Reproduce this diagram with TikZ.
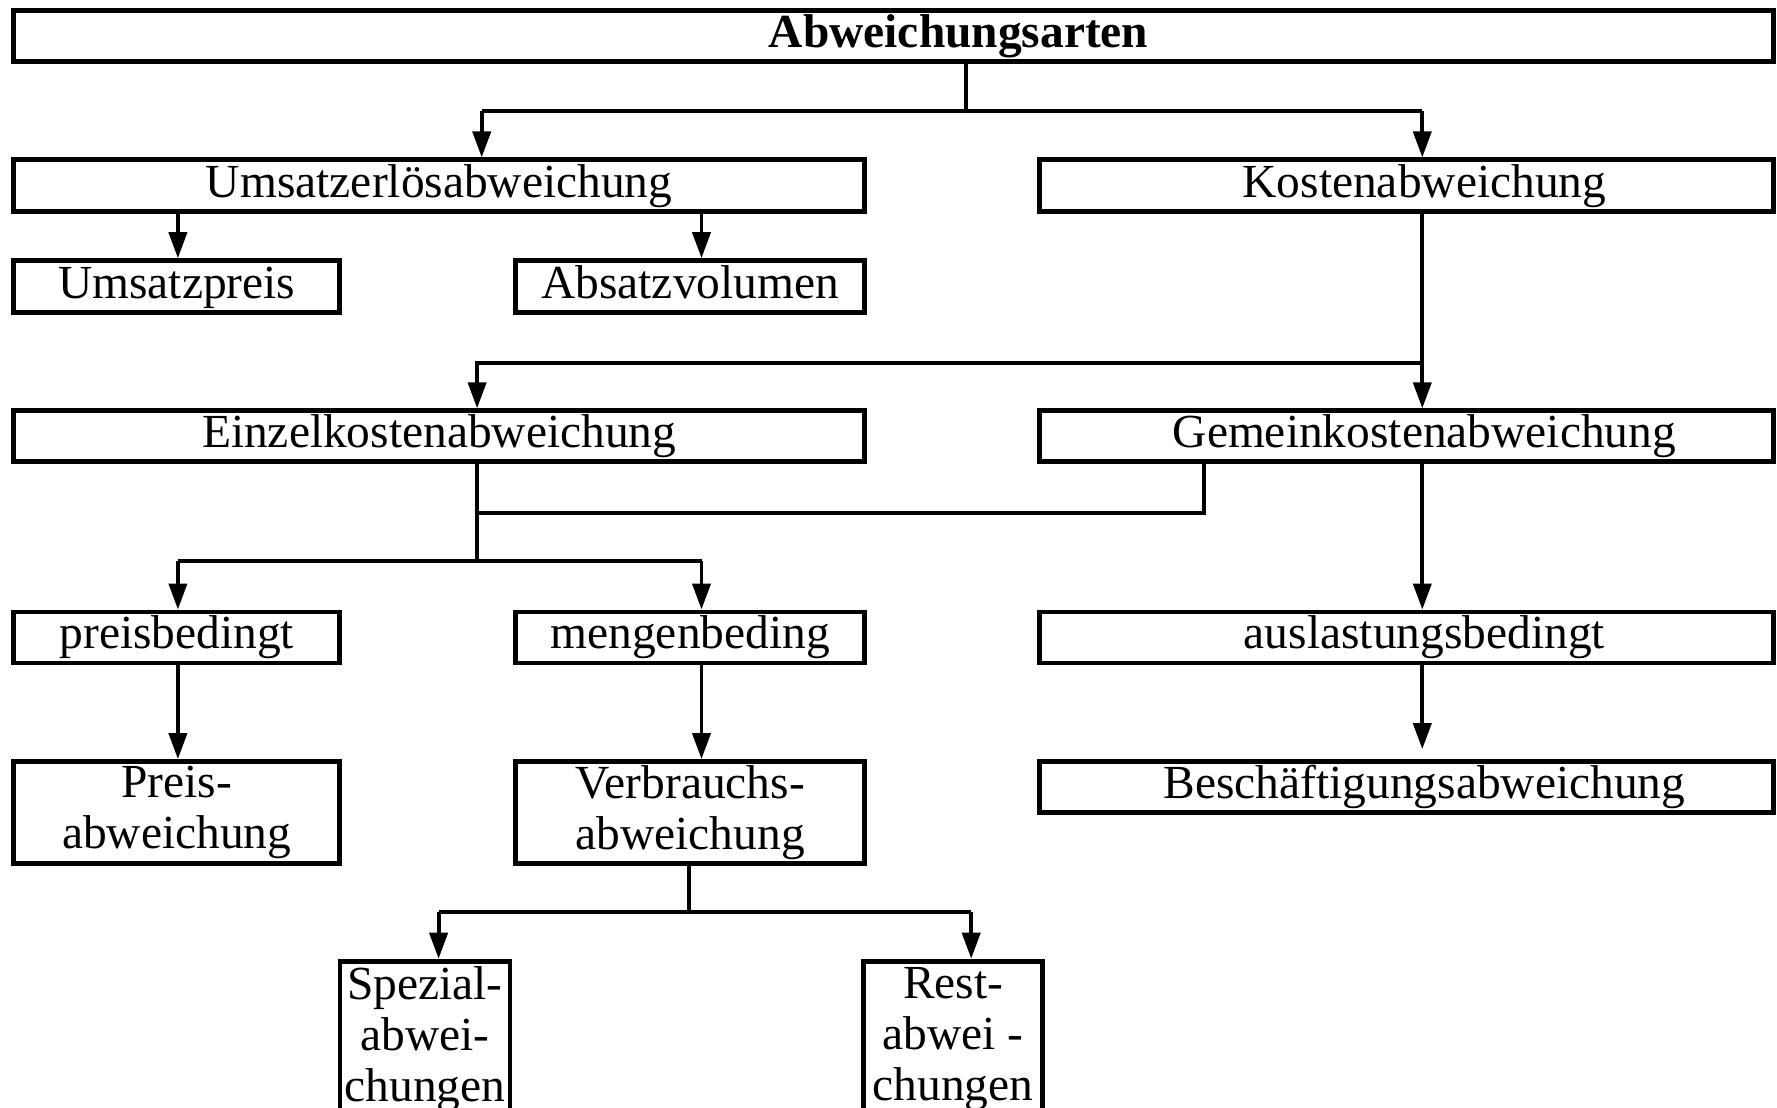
\documentclass[tikz,border=0pt]{standalone}
\usepackage{fontspec}
\setmainfont{Liberation Serif}
\usetikzlibrary{arrows.meta}

\tikzset{
  boxnode/.style={draw=black, line width=1.4pt, inner sep=1pt, align=center,
    font=\fontsize{13.5}{14.5}\selectfont},
  oneline/.style={boxnode, text height=9.5pt, text depth=3pt},
  conn/.style={line width=1.1pt},
  arr/.style={conn, -{Triangle[length=2.6mm,width=1.8mm]}}
}

\begin{document}
\begin{tikzpicture}
\clip (0,0) rectangle (17.77,11.08);

\node [oneline, minimum width=17.60cm, minimum height=0.49cm] (arten) at (8.936,10.723) {\hspace*{1.3cm}\textbf{Abweichungsarten}};
\node [oneline, minimum width=8.51cm, minimum height=0.52cm] (umsatz) at (4.392,9.221) {Umsatzerlösabweichung};
\node [oneline, minimum width=7.34cm, minimum height=0.52cm] (kosten) at (14.064,9.221) {\hspace*{0.36cm}Kostenabweichung};
\node [oneline, minimum width=3.26cm, minimum height=0.52cm] (upreis) at (1.768,8.213) {Umsatzpreis};
\node [oneline, minimum width=3.49cm, minimum height=0.52cm] (absatz) at (6.902,8.213) {Absatzvolumen};
\node [oneline, minimum width=8.51cm, minimum height=0.50cm] (einzel) at (4.392,6.717) {Einzelkostenabweichung};
\node [oneline, minimum width=7.34cm, minimum height=0.50cm] (gemein) at (14.064,6.717) {\hspace*{0.36cm}Gemeinkostenabweichung};
\node [oneline, minimum width=3.26cm, minimum height=0.51cm] (preisbed) at (1.768,4.705) {preisbedingt};
\node [oneline, minimum width=3.49cm, minimum height=0.51cm] (mengenbed) at (6.902,4.705) {mengenbeding};
\node [oneline, minimum width=7.34cm, minimum height=0.51cm] (auslast) at (14.064,4.705) {\hspace*{0.36cm}auslastungsbedingt};
\node [boxnode, minimum width=3.26cm, minimum height=1.02cm] (preisabw) at (1.768,2.954) {Preis-\\abweichung};
\node [boxnode, minimum width=3.49cm, minimum height=1.02cm] (verbrauch) at (6.902,2.954) {Verbrauchs-\\abweichung};
\node [oneline, minimum width=7.34cm, minimum height=0.51cm] (besch) at (14.064,3.209) {\hspace*{0.36cm}Beschäftigungsabweichung};
\node [boxnode, minimum width=1.70cm, minimum height=1.55cm] (spezial) at (4.25,0.693) {Spezial-\\abwei-\\chungen};
\node [boxnode, minimum width=1.79cm, minimum height=1.55cm] (rest) at (9.531,0.693) {Rest-\\abwei -\\chungen};

\coordinate (t0) at (9.656,9.969);
\coordinate (t1) at (4.817,9.969);
\coordinate (t2) at (14.223,9.969);
\draw [conn] (arten.south -| t0) -- (t0);
\draw [conn] (t1) -- (t2);
\draw [arr] (t1) -- (umsatz.north -| t1);
\draw [arr] (t2) -- (kosten.north -| t2);

\coordinate (b1) at (1.779,5.47);
\coordinate (b2) at (7.015,5.47);
\draw [arr] (umsatz.south -| b1) -- (upreis.north -| b1);
\draw [arr] (umsatz.south -| b2) -- (absatz.north -| b2);

\coordinate (k1) at (14.223,7.453);
\coordinate (k2) at (4.771,7.453);
\draw [arr] (kosten.south -| k1) -- (gemein.north -| k1);
\draw [arr] (k1) -- (k2) -- (einzel.north -| k2);

\coordinate (e1) at (4.771,5.946);
\coordinate (e2) at (4.771,5.47);
\coordinate (g1) at (12.036,5.946);
\draw [conn] (einzel.south -| e1) -- (e2);
\draw [conn] (gemein.south -| g1) -- (g1) -- (e1);
\draw [conn] (b1) -- (b2);
\draw [arr] (b1) -- (preisbed.north -| b1);
\draw [arr] (b2) -- (mengenbed.north -| b2);
\draw [arr] (gemein.south -| k1) -- (auslast.north -| k1);

\draw [arr] (preisbed.south -| b1) -- (preisabw.north -| b1);
\draw [arr] (mengenbed.south -| b2) -- (verbrauch.north -| b2);
\draw [arr, shorten >=1mm] (auslast.south -| k1) -- (besch.north -| k1);

\coordinate (v0) at (6.891,1.957);
\coordinate (v1) at (4.386,1.957);
\coordinate (v2) at (9.712,1.957);
\draw [conn] (verbrauch.south -| v0) -- (v0);
\draw [conn] (v1) -- (v2);
\draw [arr] (v1) -- (spezial.north -| v1);
\draw [arr] (v2) -- (rest.north -| v2);
\end{tikzpicture}
\end{document}
